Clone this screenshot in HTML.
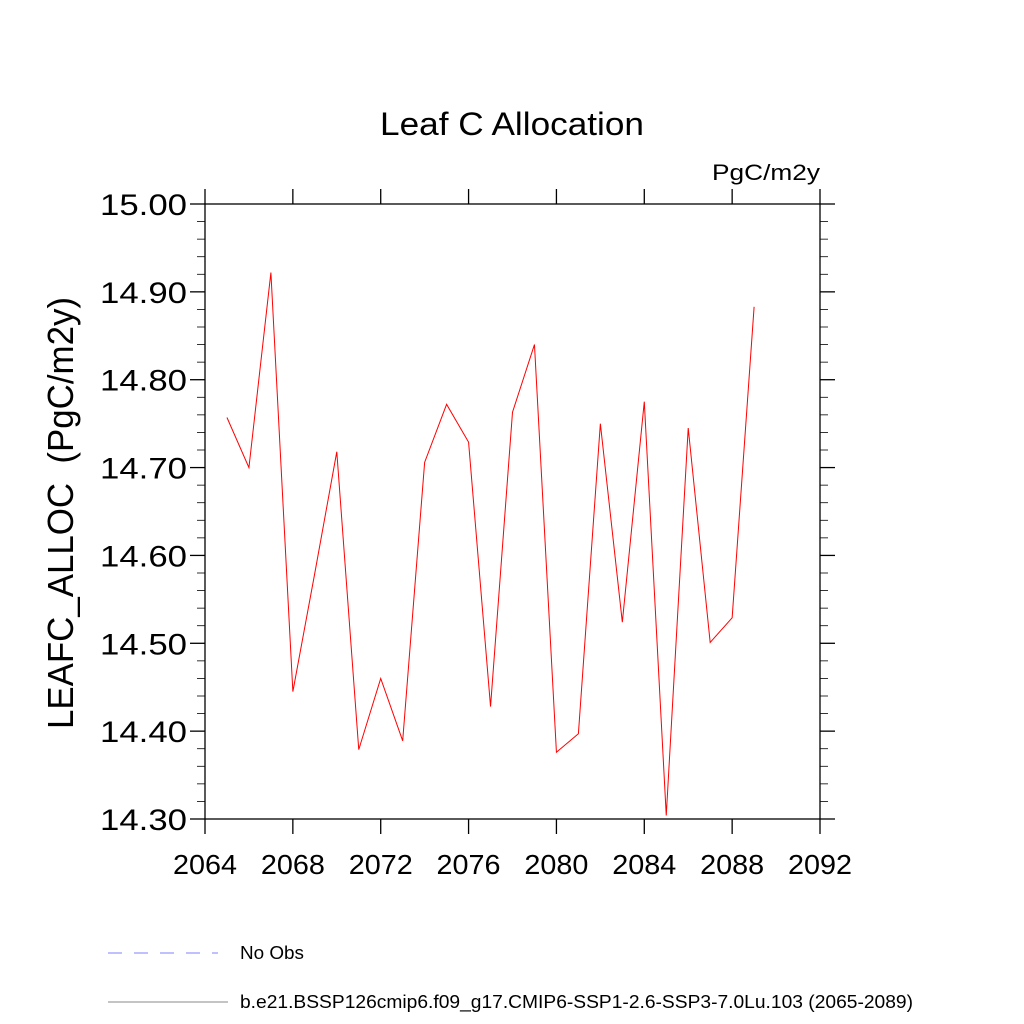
<!DOCTYPE html>
<html><head><meta charset="utf-8"><style>body{margin:0;background:#fff}svg{display:block;font-family:"Liberation Sans",sans-serif}</style></head>
<body>
<svg id="c" width="1024" height="1024">
<text x="380" y="135" font-size="32" textLength="264" lengthAdjust="spacingAndGlyphs">Leaf C Allocation</text>
<text x="712" y="180" font-size="22" textLength="108" lengthAdjust="spacingAndGlyphs">PgC/m2y</text>
<text transform="translate(73,729) rotate(-90)" font-size="36" textLength="432" lengthAdjust="spacingAndGlyphs" xml:space="preserve">LEAFC_ALLOC  (PgC/m2y)</text>
<g id="axes"></g>
<rect x="205" y="204" width="615" height="615" fill="none" stroke="#000" stroke-width="1.3"/>
<g id="series"></g>
<line x1="108" y1="953" x2="218" y2="953" stroke="#8080ff" stroke-dasharray="14,12"/>
<text x="240" y="959" font-size="18" textLength="64" lengthAdjust="spacingAndGlyphs">No Obs</text>
<line x1="108" y1="1002" x2="228" y2="1002" stroke="#888"/>
<text x="240" y="1008" font-size="18" textLength="673" lengthAdjust="spacingAndGlyphs">b.e21.BSSP126cmip6.f09_g17.CMIP6-SSP1-2.6-SSP3-7.0Lu.103 (2065-2089)</text>
</svg>
<script>
const years=[2065,2066,2067,2068,2069,2070,2071,2072,2073,2074,2075,2076,2077,2078,2079,2080,2081,2082,2083,2084,2085,2086,2087,2088,2089];
const values=[14.757,14.700,14.922,14.445,14.58,14.718,14.379,14.460,14.389,14.706,14.772,14.729,14.428,14.763,14.840,14.376,14.397,14.750,14.524,14.775,14.304,14.745,14.501,14.529,14.883];
const xTicks=[2064,2068,2072,2076,2080,2084,2088,2092];
const yTicks=[14.30,14.40,14.50,14.60,14.70,14.80,14.90,15.00];
const NS='http://www.w3.org/2000/svg';
const X=v=>205+(v-2064)*(615/28);
const Y=v=>819-(v-14.3)*(615/0.7);
const ax=document.getElementById('axes');
function mk(t,a,p){const e=document.createElementNS(NS,t);for(const k in a)e.setAttribute(k,a[k]);p.appendChild(e);return e;}
xTicks.forEach(t=>{
 const x=X(t);
 const l1=mk('line',{x1:x,y1:819,x2:x,y2:834,stroke:'#000','stroke-width':1.3},ax);
 
 
 const l2=mk('line',{x1:x,y1:204,x2:x,y2:189,stroke:'#000','stroke-width':1.3},ax);
 
 
 const tx=mk('text',{x:x-32,y:874,'font-size':28,textLength:64,lengthAdjust:'spacingAndGlyphs'},ax);
 tx.textContent=t;
 
 
});
for(let i=0;i<=35;i++){
 const v=14.3+i*0.02;const y=Y(v);const major=i%5===0;const L=major?15:8;
 const a=mk('line',{x1:205-L,y1:y,x2:205,y2:y,stroke:'#000','stroke-width':major?1.3:0.8},ax);
 
 
 const b=mk('line',{x1:820,y1:y,x2:820+L,y2:y,stroke:'#000','stroke-width':major?1.3:0.8},ax);
 
 
}
yTicks.forEach(t=>{
 const tx=mk('text',{x:100,y:Y(t)+11,'font-size':30,textLength:87,lengthAdjust:'spacingAndGlyphs'},ax);
 tx.textContent=t.toFixed(2);
 
 
});
const pl=mk('polyline',{points:years.map((y,i)=>X(y)+','+Y(values[i])).join(' '),fill:'none',stroke:'#ff0000','stroke-width':1},document.getElementById('series'));


</script>
</body></html>
